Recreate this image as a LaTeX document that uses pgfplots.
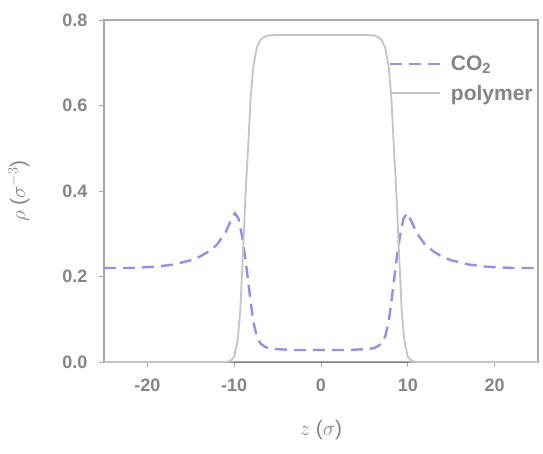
\documentclass[border=0pt]{standalone}
\usepackage{pgfplots}
\pgfplotsset{compat=1.18}
\usepackage{fontspec}
\setmainfont{Liberation Sans}
\definecolor{axgray}{HTML}{A8A8A8}
\definecolor{txtgray}{HTML}{858585}
\definecolor{co2col}{HTML}{9090F0}
\definecolor{polcol}{HTML}{C4C4C4}
\begin{document}
\begin{tikzpicture}[x=1pt,y=1pt]
\path[use as bounding box] (-104,-91) rectangle (439,362);
\begin{axis}[
  at={(0,0)}, anchor=south west,
  scale only axis, width=434pt, height=342pt,
  xmin=-25, xmax=25, ymin=0, ymax=0.8,
  xtick={-20,-10,0,10,20}, ytick={0,0.2,0.4,0.6,0.8},
  yticklabel style={/pgf/number format/fixed,/pgf/number format/fixed zerofill,/pgf/number format/precision=1},
  /pgf/number format/assume math mode=true,
  axis line style={axgray, line width=1.6pt},
  tick style={axgray, line width=0.8pt},
  tick align=outside, major tick length=5pt,
  xtick pos=bottom, ytick pos=left,
  ticklabel style={txtgray, font=\fontsize{18}{20}\selectfont\bfseries},
  xticklabel style={yshift=-8pt},
  yticklabel style={xshift=-8pt},
  xlabel={$z$ ($\sigma$)}, ylabel={$\rho$ ($\sigma^{-3}$)},
  label style={txtgray, font=\fontsize{21}{23}\selectfont},
  xlabel style={yshift=-22pt},
  ylabel style={yshift=26pt},
  legend style={draw=none, fill=none, at={(0.995,0.905)}, anchor=north east,
    font=\fontsize{21}{23}\selectfont\bfseries, text=txtgray,
    row sep=9pt, inner sep=1pt},
  legend cell align=left,
  legend image post style={xscale=2.9},
]
\addplot[co2col, line width=2.4pt, dash pattern=on 12pt off 7pt] coordinates {
(-25,0.220)(-22,0.220)(-19,0.223)(-17,0.228)(-15,0.238)(-14,0.246)(-13,0.258)(-12,0.274)(-11,0.303)(-10.4,0.330)(-9.9,0.348)(-9.5,0.335)(-9.1,0.295)(-8.7,0.240)(-8.4,0.190)(-8.1,0.140)(-7.8,0.095)(-7.4,0.060)(-7.0,0.044)(-6.5,0.036)(-6.0,0.032)(-5,0.030)(-3,0.028)(0,0.028)
(3,0.028)(5,0.030)(6.0,0.032)(6.5,0.036)(7.0,0.044)(7.4,0.060)(7.8,0.095)(8.1,0.140)(8.4,0.190)(8.7,0.240)(9.1,0.295)(9.5,0.335)(9.9,0.348)(10.4,0.330)(11,0.303)(12,0.274)(13,0.258)(14,0.246)(15,0.238)(17,0.228)(19,0.223)(22,0.220)(25,0.220)};
\addlegendentry{\hspace{8pt}CO$_\mathbf{2}$}
\addplot[polcol, line width=1.8pt] coordinates {
(-25,0)(-11,0)(-10.5,0.002)(-10,0.012)(-9.6,0.05)(-9.3,0.12)(-9.0,0.25)(-8.7,0.39)(-8.4,0.50)(-8.1,0.62)(-7.8,0.69)(-7.4,0.735)(-7.0,0.753)(-6.5,0.761)(-6,0.764)(-5,0.765)(0,0.765)
(5,0.765)(6,0.764)(6.5,0.761)(7.0,0.753)(7.4,0.735)(7.8,0.69)(8.1,0.62)(8.4,0.50)(8.7,0.39)(9.0,0.25)(9.3,0.12)(9.6,0.05)(10,0.012)(10.5,0.002)(11,0)(25,0)};
\addlegendentry{\hspace{8pt}polymer}
\addplot[gray, line width=1pt, forget plot] coordinates {(-10,0)(10,0)};
\end{axis}
\end{tikzpicture}
\end{document}
